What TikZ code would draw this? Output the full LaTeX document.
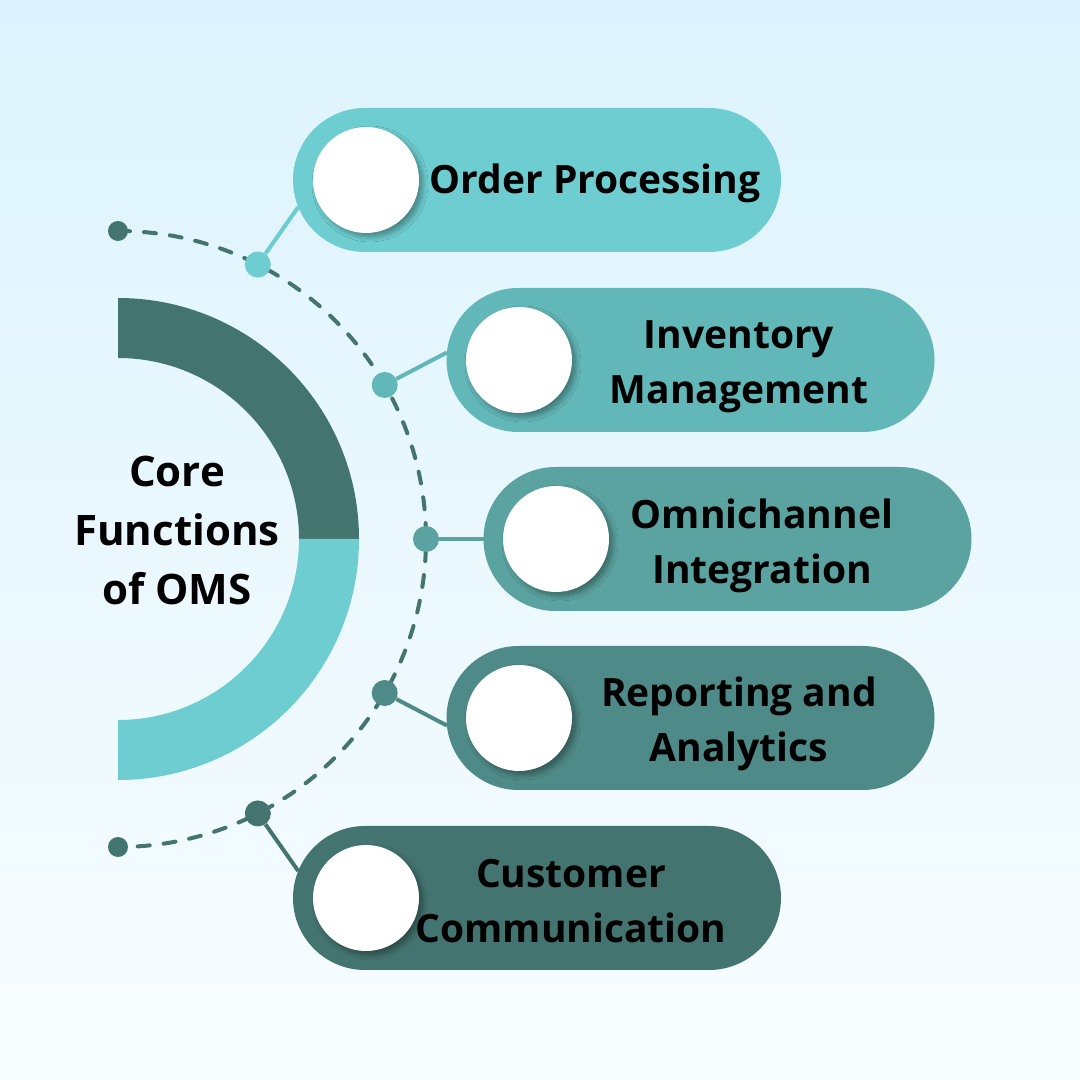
\documentclass[tikz,border=0pt]{standalone}
\usepackage{fontspec}
\setmainfont{Open Sans}
\usetikzlibrary{calc,shadows.blur}
\definecolor{bgtop}{HTML}{DCF3FD}
\definecolor{bgbot}{HTML}{F8FDFF}
\definecolor{cA}{HTML}{6ECDD0}
\definecolor{cB}{HTML}{62B7B8}
\definecolor{cC}{HTML}{5AA3A0}
\definecolor{cD}{HTML}{4E8A87}
\definecolor{cE}{HTML}{44746F}
\tikzset{
  pill/.style={rounded corners=72pt, minimum width=488pt, minimum height=144pt, inner sep=0pt, fill=#1},
  whitedisc/.style={circle, fill=white, minimum size=106pt, inner sep=0pt,
    blur shadow={shadow xshift=4pt, shadow yshift=-4pt, shadow blur steps=8, shadow opacity=35, shadow blur radius=5pt}},
  pdot/.style={circle, fill=#1, minimum size=26pt, inner sep=0pt},
  edot/.style={circle, fill=cE, minimum size=20pt, inner sep=0pt},
  link/.style={draw=#1, line width=4pt},
  lbl/.style={align=center, font=\bfseries\fontsize{39}{55}\selectfont, text=black, inner sep=0pt},
  dashline/.style={draw=cE, line width=4pt, line cap=round, dash pattern=on 12pt off 14pt}
}
\begin{document}
\begin{tikzpicture}[x=1pt,y=1pt]
\shade[top color=bgtop, bottom color=bgbot] (0,0) rectangle (1080,1080);
\useasboundingbox (0,0) rectangle (1080,1080);
\coordinate (C) at (118,541);
% half ring
\fill[cE] (118,782) arc (90:0:241) -- (299,541) arc (0:90:181) -- cycle;
\fill[cA] (359,541) arc (0:-90:241) -- (118,360) arc (-90:0:181) -- cycle;
\node[align=center, font=\bfseries\fontsize{42}{59}\selectfont, inner sep=0pt] (core) at (177,549) {Core\\Functions\\of OMS};
% dashed arc
\draw[dashline] (118,849) arc (90:-90:308);
\node[edot] (e0) at (118,849) {};
\node[edot] (e6) at (118,233) {};
% dots
\node[pdot=cA] (d1) at ([shift={(63:308)}]C) {};
\node[pdot=cB] (d2) at ([shift={(30:308)}]C) {};
\node[pdot=cC] (d3) at ([shift={(0:308)}]C) {};
\node[pdot=cD] (d4) at ([shift={(-30:308)}]C) {};
\node[pdot=cE] (d5) at ([shift={(-63:308)}]C) {};
% pill anchor points
\coordinate (k1) at ([shift={(202:72)}]365,900);
\coordinate (k2) at ([shift={(174:72)}]518.5,720);
\coordinate (k3) at (483.5,541);
\coordinate (k4) at ([shift={(186:72)}]518.5,362);
\coordinate (k5) at ([shift={(158:72)}]365,182);
% connectors
\draw[link=cA] (d1) -- (k1);
\draw[link=cB] (d2) -- (k2);
\draw[link=cC] (d3) -- (k3);
\draw[link=cD] (d4) -- (k4);
\draw[link=cE] (d5) -- (k5);
% pills
\node[pill=cA] (p1) at (537,900) {};
\node[pill=cB] (p2) at (690.5,720) {};
\node[pill=cC] (p3) at (727.5,541) {};
\node[pill=cD] (p4) at (690.5,362) {};
\node[pill=cE] (p5) at (537,182) {};
% white discs
\node[whitedisc] (w1) at (366,900) {};
\node[whitedisc] (w2) at (519,720) {};
\node[whitedisc] (w3) at (556,541) {};
\node[whitedisc] (w4) at (519,362) {};
\node[whitedisc] (w5) at (366,182) {};
% labels
\node[lbl] (l1) at (595,897) {Order Processing};
\node[lbl] (l2) at (739,713) {Inventory\\Management};
\node[lbl] (l3) at (762,534) {Omnichannel\\Integration};
\node[lbl] (l4) at (739,356) {Reporting and\\Analytics};
\node[lbl] (l5) at (571,179) {Customer\\Communication};
\end{tikzpicture}
\end{document}
